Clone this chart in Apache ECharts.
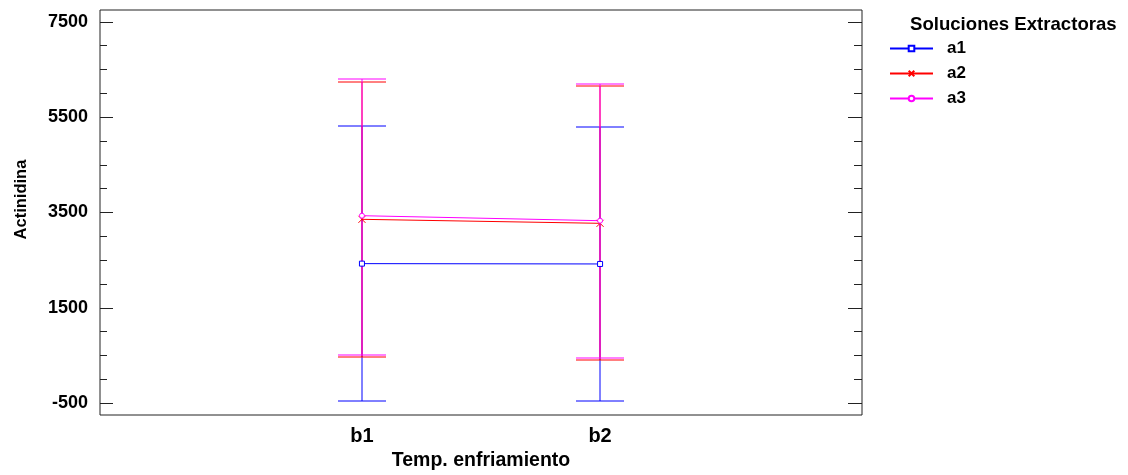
<!DOCTYPE html>
<html>
<head>
<meta charset="utf-8">
<title>Actinidina</title>
<script src="https://cdn.jsdelivr.net/npm/echarts@6/dist/echarts.min.js"></script>
<style>
  html, body { margin: 0; padding: 0; background: #fff; }
  #chart { width: 1128px; height: 475px; }
</style>
</head>
<body>
<div id="chart"></div>
<script>
// Factor levels on the x axis (placed at positions 1 and 2)
const categories = ['b1', 'b2'];
const seriesNames = ['a1', 'a2', 'a3'];

// Group means of Actinidina
const meansA1 = [2427, 2420];
const meansA2 = [3357, 3273];
const meansA3 = [3433, 3328];

// Interval bounds (lower / upper) for each level
const lowerA1 = [-452, -452];
const upperA1 = [5306, 5300];
const lowerA2 = [477, 401];
const upperA2 = [6236, 6152];
const lowerA3 = [519, 443];
const upperA3 = [6292, 6194];

// Y axis ticks
const majorTicks = [-500, 1500, 3500, 5500, 7500];
const minorTicks = [0, 500, 1000, 2000, 2500, 3000, 4000, 4500, 5000, 6000, 6500, 7000];

const colors = ['#0000ff', '#ff0000', '#ff00ff'];
const FONT = "'Liberation Sans', Arial, sans-serif";

const means = [meansA1, meansA2, meansA3];
const lowers = [lowerA1, lowerA2, lowerA3];
const uppers = [upperA1, upperA2, upperA3];
const symbols = ['rect', 'path://M0,0L10,10M10,0L0,10', 'circle'];

const CAP = 0.1; // half cap width, in x-axis units

function errorBarSeries(i) {
  const data = categories.map((c, k) => [k + 1, lowers[i][k], uppers[i][k]]);
  const seg = (x1, y1, x2, y2) => ({
    type: 'line',
    shape: { x1: x1, y1: y1, x2: x2, y2: y2 },
    style: { stroke: colors[i], lineWidth: 1, fill: null }
  });
  return {
    type: 'custom',
    name: seriesNames[i] + ' intervalo',
    data: data,
    silent: true,
    itemStyle: { color: colors[i] },
    renderItem: function (params, api) {
      const x = api.value(0);
      const lo = api.coord([x, api.value(1)]);
      const hi = api.coord([x, api.value(2)]);
      const left = Math.round(api.coord([x - CAP, api.value(1)])[0]);
      const right = Math.round(api.coord([x + CAP, api.value(1)])[0]);
      const cx = Math.round(lo[0]);
      const yLo = Math.round(lo[1]);
      const yHi = Math.round(hi[1]);
      return {
        type: 'group',
        children: [
          seg(cx, yLo, cx, yHi),
          seg(left, yLo, right, yLo),
          seg(left, yHi, right, yHi)
        ]
      };
    }
  };
}

function meanSeries(i) {
  return {
    type: 'line',
    name: seriesNames[i],
    data: categories.map((c, k) => [k + 1, means[i][k]]),
    symbol: symbols[i],
    symbolSize: i === 1 ? 7 : 5,
    showSymbol: true,
    lineStyle: { color: colors[i], width: 1 },
    itemStyle: { color: i === 1 ? colors[i] : '#ffffff', borderColor: colors[i], borderWidth: 1 },
    emphasis: { disabled: true },
    z: 3
  };
}

const series = [];
for (let i = 0; i < 3; i++) {
  series.push(errorBarSeries(i));
  series.push(meanSeries(i));
}

const yBase = { type: 'value', min: -750, max: 7750, splitLine: { show: false }, axisLine: { show: false } };
const tickAxis = (position, values, length) => Object.assign({}, yBase, {
  position: position,
  axisTick: { show: true, inside: true, length: length, customValues: values, lineStyle: { color: '#222', width: 1 } },
  axisLabel: { show: false }
});

const option = {
  animation: false,
  backgroundColor: '#ffffff',
  textStyle: { fontFamily: FONT },
  grid: {
    left: 100, right: 266, top: 10, bottom: 60,
    outerBoundsMode: 'none',
    show: true, borderColor: '#222', borderWidth: 1
  },
  title: {
    text: 'Soluciones Extractoras',
    left: 910,
    top: 15,
    padding: 0,
    textStyle: { fontFamily: FONT, fontWeight: 'bold', fontSize: 18.6, color: '#000' }
  },
  legend: {
    data: seriesNames,
    orient: 'vertical',
    left: 889,
    top: 38,
    padding: 0,
    itemWidth: 43,
    itemHeight: 7,
    itemGap: 4,
    selectedMode: false,
    textStyle: { fontFamily: FONT, fontWeight: 'bold', fontSize: 17, color: '#000', lineHeight: 21, padding: [0, 0, 0, 9] }
  },
  xAxis: {
    type: 'value',
    min: -0.1,
    max: 3.1,
    name: 'Temp. enfriamiento',
    nameLocation: 'middle',
    nameGap: 36,
    nameTextStyle: { fontFamily: FONT, fontWeight: 'bold', fontSize: 19.5, color: '#000' },
    axisLine: { show: false },
    axisTick: { show: false },
    splitLine: { show: false },
    axisLabel: {
      customValues: [1, 2],
      formatter: v => categories[Math.round(v) - 1],
      margin: 11,
      fontFamily: FONT, fontWeight: 'bold', fontSize: 20, color: '#000'
    }
  },
  yAxis: [
    Object.assign({}, yBase, {
      position: 'left',
      name: 'Actinidina',
      nameLocation: 'middle',
      nameGap: 70,
      nameRotate: 90,
      nameTextStyle: { fontFamily: FONT, fontWeight: 'bold', fontSize: 16.5, color: '#000', padding: [0, 0, 0, 26] },
      axisTick: { show: false },
      axisLabel: {
        customValues: majorTicks,
        formatter: v => String(v),
        margin: 12,
        fontFamily: FONT, fontWeight: 'bold', fontSize: 18, color: '#000'
      }
    }),
    tickAxis('left', majorTicks, 13),
    tickAxis('left', minorTicks, 7),
    tickAxis('right', majorTicks, 14),
    tickAxis('right', minorTicks, 8)
  ],
  series: series
};

const chart = echarts.init(document.getElementById('chart'), null, { renderer: 'canvas' });
chart.setOption(option);
</script>
</body>
</html>
